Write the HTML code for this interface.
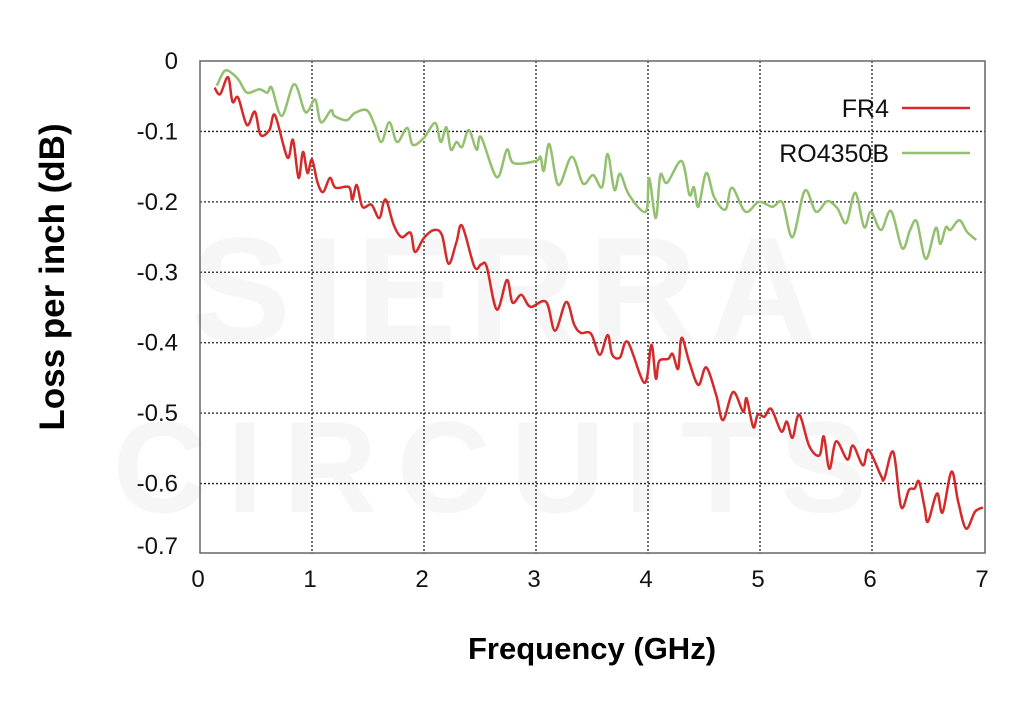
<!DOCTYPE html>
<html><head><meta charset="utf-8"><style>
html,body{margin:0;padding:0;background:#fff;}
svg{display:block;font-family:"Liberation Sans",Arial,sans-serif;}
</style></head><body>
<svg id="chart" width="1024" height="713" viewBox="0 0 1024 713" xmlns="http://www.w3.org/2000/svg">
<g fill="#f6f6f6" font-weight="bold" text-anchor="middle">
<text x="510" y="342" font-size="150" letter-spacing="12">SIERRA</text>
<text x="500" y="512" font-size="130" letter-spacing="20">CIRCUITS</text>
</g>
<g id="grid"></g>
<g id="series"></g>
<rect x="200" y="61" width="785" height="492" fill="none" stroke="#666" stroke-width="1.5"/>
<g id="yticks" font-size="24" fill="#111" text-anchor="end"></g>
<g id="xticks" font-size="24" fill="#111" text-anchor="middle"></g>
<text x="592" y="659" font-size="31" font-weight="bold" text-anchor="middle" fill="#000">Frequency (GHz)</text>
<text transform="translate(64,277) rotate(-90)" font-size="35" font-weight="bold" text-anchor="middle" fill="#000">Loss per inch (dB)</text>
<g font-size="25" fill="#111">
<g><text x="889" y="117" text-anchor="end">FR4</text><line x1="902" y1="108" x2="970" y2="108" stroke="#d42a2a" stroke-width="2.5"/></g>
<g><text x="889" y="162" text-anchor="end">RO4350B</text><line x1="902" y1="153" x2="970" y2="153" stroke="#93c06e" stroke-width="2.5"/></g>
</g>
</svg>
<script>
const xTicks=[0,1,2,3,4,5,6,7];
const yTicks=[0,-0.1,-0.2,-0.3,-0.4,-0.5,-0.6,-0.7];
const yTickLabels=["0","-0.1","-0.2","-0.3","-0.4","-0.5","-0.6","-0.7"];
const fr4F=[0.13,0.18,0.25,0.29,0.34,0.42,0.49,0.54,0.62,0.67,0.78,0.83,0.88,0.92,0.96,1.0,1.05,1.1,1.16,1.21,1.33,1.36,1.4,1.45,1.53,1.6,1.64,1.67,1.73,1.8,1.88,1.92,2.0,2.09,2.16,2.22,2.29,2.34,2.45,2.51,2.56,2.65,2.74,2.79,2.87,2.95,3.09,3.17,3.27,3.34,3.4,3.49,3.57,3.64,3.68,3.75,3.82,3.97,4.03,4.07,4.1,4.18,4.22,4.27,4.3,4.37,4.45,4.52,4.61,4.67,4.76,4.85,4.88,4.94,4.98,5.04,5.1,5.19,5.24,5.29,5.35,5.44,5.53,5.57,5.62,5.68,5.78,5.83,5.92,5.97,6.08,6.11,6.19,6.26,6.33,6.38,6.42,6.47,6.5,6.58,6.63,6.71,6.77,6.84,6.92,6.99];
const fr4Loss=[-0.038,-0.047,-0.023,-0.058,-0.052,-0.091,-0.072,-0.105,-0.098,-0.077,-0.137,-0.112,-0.166,-0.129,-0.159,-0.14,-0.173,-0.186,-0.166,-0.18,-0.179,-0.197,-0.176,-0.207,-0.204,-0.223,-0.2,-0.2,-0.233,-0.25,-0.244,-0.271,-0.251,-0.24,-0.247,-0.288,-0.257,-0.234,-0.292,-0.289,-0.292,-0.353,-0.311,-0.343,-0.332,-0.349,-0.342,-0.383,-0.342,-0.374,-0.386,-0.387,-0.417,-0.389,-0.417,-0.421,-0.399,-0.457,-0.403,-0.451,-0.426,-0.423,-0.416,-0.437,-0.393,-0.428,-0.46,-0.435,-0.475,-0.51,-0.47,-0.498,-0.479,-0.52,-0.502,-0.505,-0.494,-0.526,-0.512,-0.535,-0.502,-0.547,-0.56,-0.533,-0.579,-0.54,-0.566,-0.546,-0.574,-0.552,-0.589,-0.593,-0.555,-0.633,-0.609,-0.607,-0.597,-0.634,-0.654,-0.614,-0.641,-0.583,-0.626,-0.664,-0.64,-0.634];
const roF=[0.15,0.22,0.29,0.35,0.42,0.53,0.6,0.64,0.73,0.84,0.93,0.97,1.03,1.08,1.17,1.2,1.31,1.38,1.49,1.56,1.62,1.69,1.76,1.85,1.9,2.0,2.1,2.15,2.2,2.24,2.29,2.34,2.4,2.47,2.51,2.65,2.74,2.8,3.0,3.04,3.07,3.12,3.2,3.32,3.42,3.51,3.59,3.64,3.7,3.75,3.83,3.98,4.01,4.07,4.11,4.17,4.3,4.37,4.41,4.45,4.52,4.59,4.69,4.75,4.87,4.99,5.11,5.2,5.29,5.4,5.5,5.6,5.69,5.77,5.85,5.93,5.99,6.08,6.17,6.27,6.34,6.4,6.48,6.57,6.61,6.66,6.7,6.78,6.85,6.93];
const roLoss=[-0.035,-0.014,-0.018,-0.028,-0.045,-0.04,-0.045,-0.038,-0.078,-0.033,-0.07,-0.07,-0.055,-0.087,-0.07,-0.078,-0.084,-0.074,-0.07,-0.091,-0.115,-0.087,-0.115,-0.095,-0.119,-0.109,-0.088,-0.115,-0.094,-0.126,-0.115,-0.122,-0.098,-0.126,-0.108,-0.165,-0.126,-0.145,-0.142,-0.136,-0.156,-0.118,-0.176,-0.136,-0.174,-0.162,-0.179,-0.132,-0.183,-0.16,-0.19,-0.214,-0.166,-0.223,-0.162,-0.173,-0.142,-0.19,-0.179,-0.207,-0.159,-0.193,-0.211,-0.18,-0.214,-0.2,-0.207,-0.201,-0.25,-0.184,-0.214,-0.199,-0.209,-0.23,-0.187,-0.236,-0.214,-0.24,-0.213,-0.266,-0.24,-0.228,-0.281,-0.237,-0.26,-0.236,-0.24,-0.226,-0.243,-0.254];

const NS='http://www.w3.org/2000/svg';
const X0=200,X1=984,Y0=61,Y1=554;
function xs(v){return X0+(v-0)/(7-0)*(X1-X0);}
function ys(v){return Y0+(0-v)/(0.7)*(Y1-Y0);}
const grid=document.getElementById('grid');
xTicks.forEach(t=>{ if(t===0||t===7)return;
  const l=document.createElementNS(NS,'line');
  
  
  l.setAttribute('x1',xs(t));l.setAttribute('x2',xs(t));l.setAttribute('y1',Y0);l.setAttribute('y2',Y1);
  l.setAttribute('stroke','#222');l.setAttribute('stroke-width','1.3');l.setAttribute('stroke-dasharray','2,2');
  grid.appendChild(l);});
yTicks.forEach(t=>{ if(t===0||t===-0.7)return;
  const l=document.createElementNS(NS,'line');
  
  
  l.setAttribute('x1',X0);l.setAttribute('x2',985);l.setAttribute('y1',ys(t));l.setAttribute('y2',ys(t));
  l.setAttribute('stroke','#222');l.setAttribute('stroke-width','1.3');l.setAttribute('stroke-dasharray','2,2');
  grid.appendChild(l);});
const yg=document.getElementById('yticks');
yTicks.forEach((t,i)=>{const e=document.createElementNS(NS,'text');
  
  
  e.setAttribute('x',178);e.setAttribute('y',Math.min(ys(t),546)+8);e.textContent=yTickLabels[i];yg.appendChild(e);});
const xg=document.getElementById('xticks');
xTicks.forEach(t=>{const e=document.createElementNS(NS,'text');
  
  
  e.setAttribute('x',xs(t)-2);e.setAttribute('y',587);e.textContent=String(t);xg.appendChild(e);});
function smooth(fx,fy){const p=fx.map((f,i)=>[xs(f),ys(fy[i])]);let d='M'+p[0][0]+','+p[0][1];
  for(let i=0;i<p.length-1;i++){const a=p[i-1]||p[i],b=p[i],c=p[i+1],e=p[i+2]||c;
    const c1=[b[0]+(c[0]-a[0])/6,b[1]+(c[1]-a[1])/6],c2=[c[0]-(e[0]-b[0])/6,c[1]-(e[1]-b[1])/6];
    d+=' C'+c1[0].toFixed(1)+','+c1[1].toFixed(1)+' '+c2[0].toFixed(1)+','+c2[1].toFixed(1)+' '+c[0].toFixed(1)+','+c[1].toFixed(1);}
  return d;}
const sg=document.getElementById('series');
const ro=document.createElementNS(NS,'path');


ro.setAttribute('d',smooth(roF,roLoss));ro.setAttribute('fill','none');ro.setAttribute('stroke','#93c06e');ro.setAttribute('stroke-width','2.5');
sg.appendChild(ro);
const fr=document.createElementNS(NS,'path');


fr.setAttribute('d',smooth(fr4F,fr4Loss));fr.setAttribute('fill','none');fr.setAttribute('stroke','#d42a2a');fr.setAttribute('stroke-width','2.5');
sg.appendChild(fr);
</script>
</body></html>
